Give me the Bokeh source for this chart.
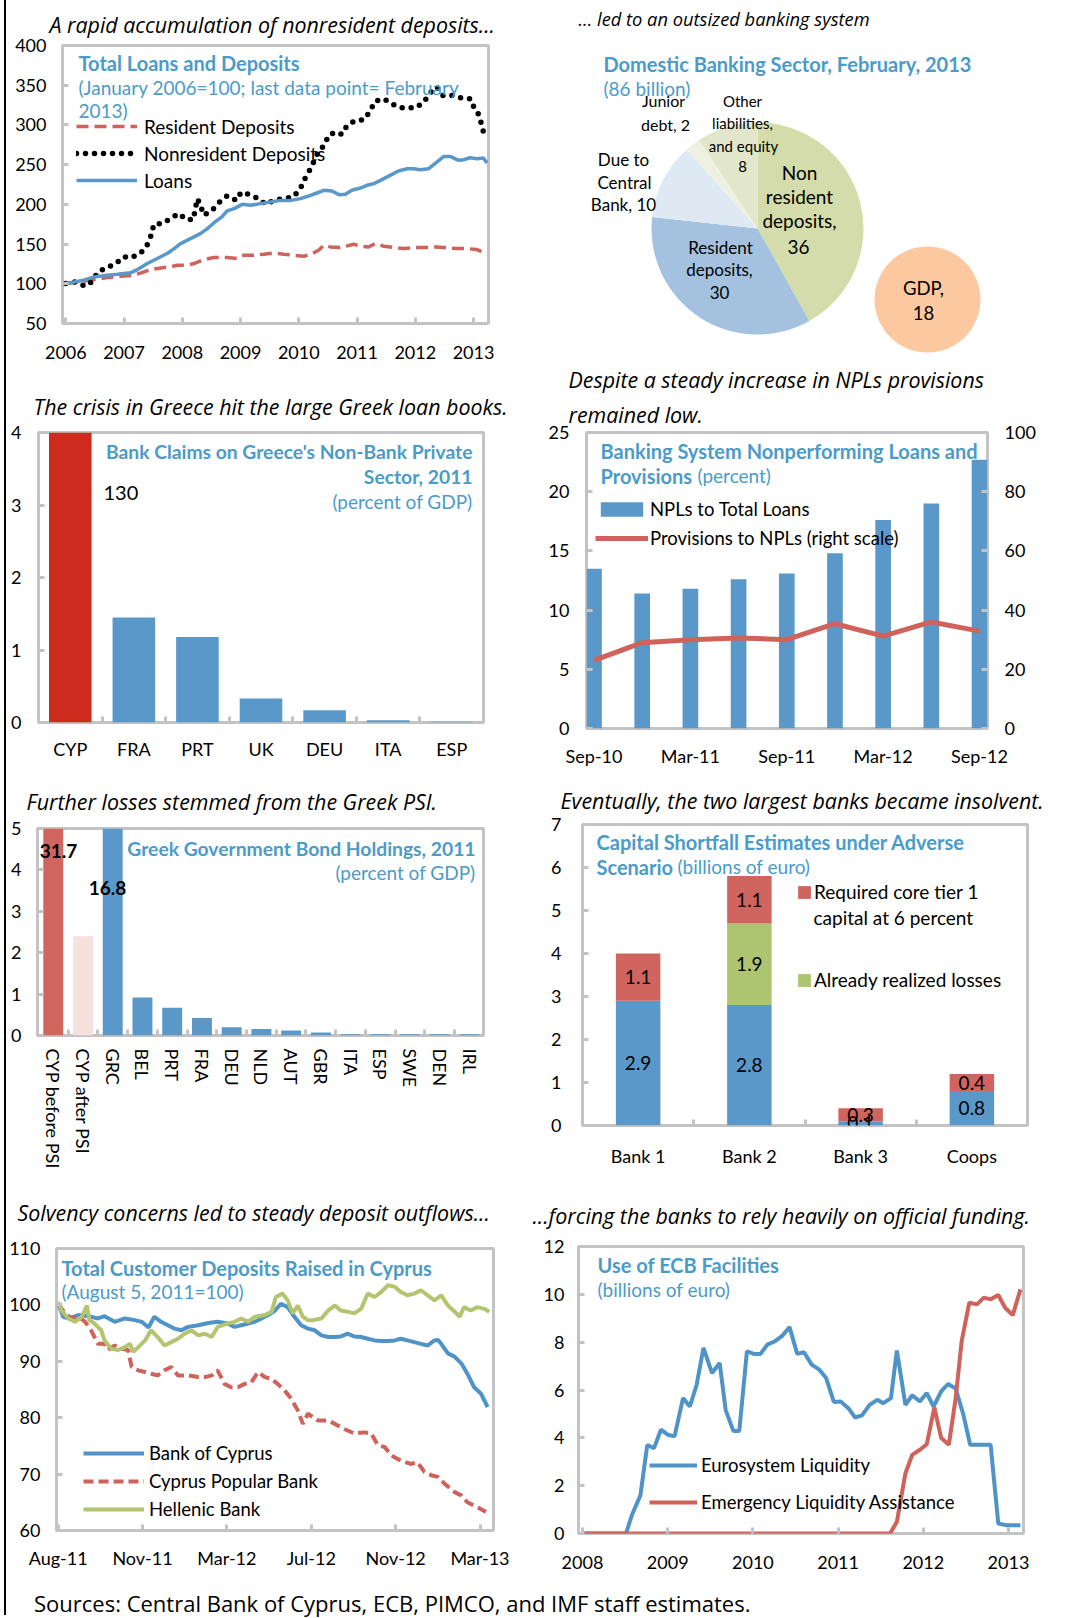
import math
from bokeh.plotting import figure
from bokeh.models import Range1d, LinearAxis, FixedTicker, Label, Legend, LegendItem, Div, Title
from bokeh.layouts import row, column
from bokeh.embed import file_html
from bokeh.resources import INLINE
from bokeh.core.properties import value

# ---------------- DATA ----------------
# Panel 1: Total loans and deposits (Jan 2006 = 100)
p1_years = [2006, 2007, 2008, 2009, 2010, 2011, 2012, 2013]
p1_yticks = [50, 100, 150, 200, 250, 300, 350, 400]
loans_x = [2006.00, 2006.26, 2006.49, 2006.71, 2006.89, 2007.11, 2007.23, 2007.40, 2007.57, 2007.74,
           2007.86, 2007.97, 2008.14, 2008.31, 2008.43, 2008.54, 2008.69, 2008.77, 2008.89, 2009.03,
           2009.17, 2009.34, 2009.51, 2009.69, 2009.86, 2010.03, 2010.20, 2010.31, 2010.43, 2010.57,
           2010.69, 2010.80, 2010.91, 2011.06, 2011.17, 2011.29, 2011.46, 2011.60, 2011.71, 2011.86,
           2011.97, 2012.09, 2012.23, 2012.37, 2012.49, 2012.60, 2012.74, 2012.83, 2012.94, 2013.06,
           2013.17, 2013.23]
loans_y = [100.3, 103.7, 108.7, 110.8, 112.1, 113.8, 117.9, 125.5, 131.8, 138.1,
           144.3, 150.6, 156.9, 163.2, 169.5, 176.6, 185.0, 191.7, 194.6, 200.0,
           198.8, 200.9, 203.0, 205.0, 205.0, 207.2, 211.4, 214.3, 217.7, 216.8,
           212.2, 212.7, 217.7, 220.6, 224.0, 226.1, 232.4, 237.8, 242.0, 244.9,
           244.9, 243.7, 244.9, 253.3, 260.4, 260.4, 255.4, 256.2, 258.7, 257.5,
           258.3, 252.0]
resdep_x = [2006.00, 2006.26, 2006.49, 2006.71, 2006.94, 2007.17, 2007.29, 2007.46, 2007.63, 2007.80,
            2007.91, 2008.09, 2008.20, 2008.37, 2008.54, 2008.77, 2008.94, 2009.06, 2009.23, 2009.40,
            2009.57, 2009.74, 2009.91, 2010.09, 2010.23, 2010.34, 2010.43, 2010.54, 2010.71, 2010.83,
            2010.94, 2011.06, 2011.20, 2011.31, 2011.46, 2011.63, 2011.80, 2011.97, 2012.20, 2012.37,
            2012.54, 2012.71, 2012.89, 2013.06, 2013.20]
resdep_y = [100.3, 102.4, 105.4, 107.9, 109.6, 110.8, 113.8, 117.9, 120.0, 121.3,
            123.4, 123.4, 125.5, 130.5, 133.0, 133.0, 131.8, 136.0, 136.0, 137.2,
            138.9, 137.2, 136.0, 134.7, 138.1, 142.2, 148.5, 146.4, 145.6, 147.7,
            149.8, 147.3, 146.4, 150.6, 147.3, 145.6, 144.3, 145.6, 145.6, 146.4,
            145.2, 144.3, 144.3, 143.1, 138.1]
nonres_x = [2006.00, 2006.17, 2006.33, 2006.46, 2006.55, 2006.70, 2006.86, 2006.99, 2007.13, 2007.29,
            2007.40, 2007.47, 2007.51, 2007.66, 2007.80, 2007.94, 2008.07, 2008.19, 2008.22, 2008.26,
            2008.31, 2008.37, 2008.51, 2008.64, 2008.77, 2008.93, 2009.01, 2009.14, 2009.27, 2009.43,
            2009.57, 2009.73, 2009.90, 2010.02, 2010.09, 2010.18, 2010.26, 2010.34, 2010.44, 2010.51,
            2010.63, 2010.74, 2010.83, 2010.96, 2011.13, 2011.23, 2011.31, 2011.46, 2011.59, 2011.74,
            2011.87, 2012.01, 2012.15, 2012.24, 2012.37, 2012.47, 2012.64, 2012.77, 2012.95, 2013.01,
            2013.11, 2013.14, 2013.20]
nonres_y = [100.3, 102.4, 97.0, 103.3, 115.0, 120.0, 125.5, 133.9, 133.0, 138.9,
            149.4, 162.0, 174.9, 175.8, 182.1, 188.4, 180.8, 180.8, 193.4, 207.2,
            198.8, 186.3, 192.5, 203.0, 210.6, 205.0, 215.2, 212.7, 208.5, 200.0,
            205.0, 207.2, 209.3, 218.5, 230.3, 242.0, 254.1, 267.1, 274.3, 286.8,
            291.0, 288.1, 299.4, 304.9, 307.0, 318.3, 330.0, 332.9, 326.7, 321.6,
            321.6, 321.6, 328.8, 339.2, 347.6, 337.1, 337.1, 334.2, 332.9, 321.6,
            310.7, 298.2, 284.8]

# Panel 2: Domestic banking sector, Feb 2013 (billions)
pie_names = ["Non resident deposits", "Resident deposits", "Due to Central Bank", "Junior debt",
             "Other liabilities, and equity"]
pie_values = [36, 30, 10, 2, 8]
gdp_value = 18

# Panel 3: Bank claims on Greece's non-bank private sector (percent of GDP)
claims_cats = ["CYP", "FRA", "PRT", "UK", "DEU", "ITA", "ESP"]
claims_vals = [130, 1.45, 1.18, 0.33, 0.17, 0.03, 0.01]

# Panel 4: NPLs and provisions
npl_quarters = ["Sep-10", "Dec-10", "Mar-11", "Jun-11", "Sep-11", "Dec-11", "Mar-12", "Jun-12", "Sep-12"]
npl_vals = [13.5, 11.4, 11.8, 12.6, 13.1, 14.8, 17.6, 19.0, 22.7]
prov_vals = [23.0, 29.0, 30.0, 30.6, 30.0, 35.4, 31.2, 36.0, 32.9]

# Panel 5: Greek government bond holdings, 2011 (percent of GDP)
bond_cats = ["CYP before PSI", "CYP after PSI", "GRC", "BEL", "PRT", "FRA", "DEU", "NLD", "AUT",
             "GBR", "ITA", "ESP", "SWE", "DEN", "IRL"]
bond_vals = [31.7, 2.4, 16.8, 0.92, 0.67, 0.42, 0.20, 0.16, 0.12, 0.07, 0.03, 0.03, 0.03, 0.03, 0.03]

# Panel 6: Capital shortfall (billions of euro)
banks = ["Bank 1", "Bank 2", "Bank 3", "Coops"]
base_vals = [2.9, 2.8, 0.1, 0.8]
losses_vals = [0, 1.9, 0, 0]
required_vals = [1.1, 1.1, 0.3, 0.4]

# Panel 7: Total customer deposits (Aug 5, 2011 = 100); x in tick intervals
dep_ticks = ["Aug-11", "Nov-11", "Mar-12", "Jul-12", "Nov-12", "Mar-13"]
boc_x = [0, 0.06, 0.12, 0.24, 0.36, 0.47, 0.55, 0.67, 0.79, 0.91, 0.99, 1.07, 1.14, 1.22, 1.30, 1.38,
         1.46, 1.54, 1.66, 1.78, 1.89, 2.01, 2.09, 2.17, 2.25, 2.33, 2.41, 2.49, 2.57, 2.64, 2.72, 2.80,
         2.88, 2.96, 3.04, 3.12, 3.20, 3.28, 3.35, 3.43, 3.51, 3.59, 3.67, 3.75, 3.83, 3.91, 3.99, 4.06,
         4.14, 4.22, 4.30, 4.38, 4.46, 4.50, 4.54, 4.62, 4.70, 4.78, 4.85, 4.93, 5.01, 5.09]
boc_y = [100.2, 97.9, 97.6, 98.2, 98.0, 97.6, 98.0, 97.0, 97.6, 97.3, 97.0, 96.0, 97.9, 97.0, 96.4, 95.8,
         95.5, 96.1, 96.4, 96.8, 97.0, 96.7, 96.1, 96.4, 96.7, 97.0, 97.6, 98.2, 99.0, 100.2, 99.6, 97.9,
         96.4, 95.8, 95.5, 94.6, 94.3, 94.3, 94.4, 94.9, 94.4, 94.3, 94.0, 93.7, 93.6, 93.6, 93.7, 94.0,
         93.7, 93.4, 93.1, 92.8, 93.7, 93.8, 93.1, 91.4, 90.8, 89.6, 87.8, 85.4, 84.3, 81.9]
cpb_x = [0, 0.08, 0.16, 0.24, 0.32, 0.39, 0.47, 0.55, 0.59, 0.67, 0.75, 0.83, 0.87, 0.95, 1.03, 1.10,
         1.18, 1.26, 1.34, 1.42, 1.54, 1.66, 1.74, 1.82, 1.89, 1.97, 2.05, 2.13, 2.21, 2.29, 2.37, 2.45,
         2.53, 2.60, 2.68, 2.76, 2.84, 2.90, 2.96, 3.08, 3.20, 3.28, 3.39, 3.51, 3.63, 3.71, 3.79, 3.87,
         3.95, 4.06, 4.18, 4.26, 4.34, 4.42, 4.50, 4.58, 4.70, 4.78, 4.85, 4.93, 5.01, 5.07]
cpb_y = [100.2, 98.5, 97.6, 97.9, 97.0, 95.5, 93.1, 93.1, 92.0, 92.8, 92.2, 92.0, 89.0, 88.4, 88.1, 87.8,
         87.5, 88.4, 89.0, 87.5, 87.5, 87.2, 87.2, 87.5, 88.4, 86.0, 85.4, 85.4, 86.0, 86.3, 88.1, 87.2,
         86.9, 86.0, 84.9, 83.4, 81.3, 78.9, 80.7, 79.5, 79.5, 78.9, 78.0, 77.2, 77.4, 77.2, 75.1, 74.8,
         73.3, 72.4, 71.8, 72.1, 70.4, 69.8, 69.5, 68.3, 66.8, 66.2, 65.0, 64.4, 63.8, 63.3]
hel_x = [0, 0.04, 0.12, 0.20, 0.28, 0.34, 0.37, 0.43, 0.51, 0.55, 0.63, 0.71, 0.79, 0.85, 0.89, 0.95,
         1.03, 1.10, 1.18, 1.26, 1.34, 1.42, 1.50, 1.58, 1.66, 1.74, 1.82, 1.89, 2.01, 2.09, 2.17, 2.25,
         2.33, 2.45, 2.53, 2.58, 2.66, 2.72, 2.78, 2.84, 2.90, 2.96, 3.02, 3.12, 3.20, 3.28, 3.35, 3.43,
         3.51, 3.59, 3.67, 3.75, 3.83, 3.91, 3.99, 4.06, 4.14, 4.22, 4.30, 4.38, 4.46, 4.54, 4.62, 4.70,
         4.76, 4.81, 4.89, 4.97, 5.05, 5.11]
hel_y = [100.5, 99.0, 97.6, 97.0, 97.9, 99.9, 97.3, 96.7, 95.5, 93.7, 92.2, 92.0, 92.5, 93.1, 91.7, 92.5,
         93.7, 95.5, 94.3, 92.8, 93.4, 94.0, 94.9, 95.5, 94.6, 94.9, 94.3, 96.1, 96.7, 97.0, 97.6, 97.0,
         97.9, 98.2, 98.8, 101.4, 102.0, 100.8, 98.5, 99.9, 97.9, 97.3, 97.3, 97.6, 99.0, 99.9, 99.0, 98.8,
         98.5, 99.3, 102.0, 101.4, 102.3, 103.5, 103.2, 102.3, 101.7, 102.0, 102.6, 101.7, 100.8, 101.7,
         99.9, 98.8, 97.9, 99.6, 99.0, 99.6, 99.3, 98.8]

# Panel 8: Use of ECB facilities (billions of euro)
ecb_years = [2008, 2009, 2010, 2011, 2012, 2013]
eu_x = [2008.00, 2008.51, 2008.58, 2008.68, 2008.76, 2008.84, 2008.92, 2009.00, 2009.08, 2009.18,
        2009.26, 2009.34, 2009.42, 2009.52, 2009.61, 2009.68, 2009.77, 2009.84, 2009.93, 2010.01,
        2010.09, 2010.17, 2010.26, 2010.34, 2010.43, 2010.52, 2010.60, 2010.69, 2010.78, 2010.86,
        2010.95, 2011.03, 2011.12, 2011.20, 2011.28, 2011.37, 2011.46, 2011.53, 2011.62, 2011.69,
        2011.79, 2011.87, 2011.96, 2012.04, 2012.12, 2012.21, 2012.29, 2012.38, 2012.47, 2012.55,
        2012.64, 2012.72, 2012.79, 2012.88, 2012.97, 2013.06, 2013.14]
eu_y = [0, 0, 0.77, 1.6, 3.7, 3.57, 4.34, 4.13, 4.06, 5.66,
        5.31, 6.22, 7.76, 6.71, 7.13, 5.17, 4.29, 4.29, 7.62, 7.51,
        7.51, 7.90, 8.04, 8.25, 8.63, 7.51, 7.58, 7.06, 6.85, 6.50,
        5.50, 5.52, 5.24, 4.85, 4.94, 5.38, 5.59, 5.45, 5.66, 7.65,
        5.38, 5.78, 5.52, 5.87, 5.31, 5.94, 6.25, 6.06, 4.97, 3.71,
        3.71, 3.71, 3.71, 0.42, 0.35, 0.35, 0.35]
ela_x = [2008.00, 2011.61, 2011.69, 2011.79, 2011.87, 2011.96, 2012.04, 2012.13, 2012.21, 2012.30,
         2012.38, 2012.45, 2012.54, 2012.63, 2012.71, 2012.79, 2012.88, 2012.96, 2013.05, 2013.14]
ela_y = [0, 0, 0.49, 2.52, 3.29, 3.50, 3.73, 5.27, 3.99, 3.71,
         5.66, 8.04, 9.65, 9.58, 9.86, 9.79, 9.97, 9.44, 9.13, 10.21]

# ---------------- STYLE ----------------
FONT = "Lato"
CAPFONT = "Open Sans"
TBLUE = "#4b9bc8"
BLUE = "#5a98c9"
RED = "#d0625c"
CYP_RED = "#cc2b1d"
GREEN = "#adc470"
GRAY = "#c3c3c3"
TICK = 18
HEAD = 20     # bold blue chart titles
SUB = 19      # blue subtitles
CAP = 21.4    # italic panel captions


def base_fig(ox, oy, w, h, fl, ft, fw, fh, xr, yr):
    p = figure(width=w, height=h, x_range=xr, y_range=yr, title=None,
               min_border_left=fl - ox, min_border_right=w - (fl - ox) - fw,
               min_border_top=ft - oy, min_border_bottom=h - (ft - oy) - fh,
               output_backend="svg", toolbar_location=None)
    p.grid.visible = False
    p.outline_line_color = GRAY
    p.outline_line_width = 3
    p.background_fill_color = "white"
    p.border_fill_color = "white"
    return p


def style_axis(ax, standoff, tick_in=6, boundary=False):
    ax.axis_line_color = None
    ax.major_tick_line_color = GRAY
    ax.major_tick_line_width = 3
    ax.major_tick_in = 0 if boundary else tick_in
    ax.major_tick_out = 0
    if boundary:
        ax.minor_tick_line_color = GRAY
        ax.minor_tick_line_width = 3
        ax.minor_tick_in = tick_in
        ax.minor_tick_out = 0
    else:
        ax.minor_tick_line_color = None
    ax.major_label_text_font = FONT
    ax.major_label_text_font_size = f"{TICK}px"
    ax.major_label_text_color = "black"
    ax.major_label_standoff = standoff


def cat_axis(ax, cats, standoff):
    idx = list(range(len(cats)))
    ax.ticker = FixedTicker(ticks=idx, minor_ticks=[i + 0.5 for i in idx[:-1]])
    ax.major_label_overrides = {i: c for i, c in zip(idx, cats)}
    style_axis(ax, standoff, boundary=True)


def lab(p, frame, px, py, text, size=18, color="black", style="normal", align="left", font=FONT):
    fl, fb = frame
    p.add_layout(Label(x=px - fl, y=fb - py, x_units="screen", y_units="screen", text=text,
                       text_font=font, text_font_size=f"{size}px", text_color=color,
                       text_font_style=style, text_align=align, text_baseline="middle"))


def caption(p, lines, offset, standoffs, size=CAP):
    # lines given top to bottom; the first Title added sits nearest the frame
    for text, so in zip(reversed(lines), reversed(standoffs)):
        p.add_layout(Title(text=text, align="left", offset=offset, standoff=so, text_font=CAPFONT,
                           text_font_size=f"{size}px", text_font_style="italic",
                           text_color="black"), "above")


def legend(p, items, loc, gw, gh, spacing, standoff, size=18.5):
    lg = Legend(items=items, location=loc, orientation="vertical", glyph_width=gw, glyph_height=gh,
                label_height=gh, spacing=spacing, label_standoff=standoff, padding=0, margin=0,
                border_line_color=None, background_fill_alpha=0, label_text_font=FONT,
                label_text_font_size=f"{size}px", label_text_color="black")
    p.add_layout(lg)


# ---------------- PANEL A ----------------
FA = (62, 323)
pA = base_fig(6, 0, 524, 372, 62, 45, 426, 278, Range1d(2005.943, 2013.257), Range1d(50, 400))
style_axis(pA.xaxis[0], 22)
pA.xaxis[0].ticker = FixedTicker(ticks=p1_years)
style_axis(pA.yaxis[0], 16)
pA.yaxis[0].ticker = FixedTicker(ticks=p1_yticks)
rA1 = pA.line(resdep_x, resdep_y, line_color=RED, line_width=3.5, line_dash="12 6")
rA2 = pA.line(nonres_x, nonres_y, line_color="black", line_width=5.5, line_dash="0 9", line_cap="round")
rA3 = pA.line(loans_x, loans_y, line_color=BLUE, line_width=3.5)
legend(pA, [LegendItem(label="Resident Deposits", renderers=[rA1]),
            LegendItem(label="Nonresident Deposits", renderers=[rA2]),
            LegendItem(label="Loans", renderers=[rA3])], (14, 131), 61, 24, 3, 7, 19)
caption(pA, ["A rapid accumulation of nonresident deposits..."], 49 - 62, [13])
lab(pA, FA, 78, 62, "Total Loans and Deposits", HEAD, TBLUE, "bold")
lab(pA, FA, 78, 87, "(January 2006=100; last data point= February", SUB, TBLUE)
lab(pA, FA, 78, 110, "2013)", SUB, TBLUE)

# ---------------- PANEL B (pie) ----------------
FB = (530, 360)
pB = figure(width=540, height=360, x_range=Range1d(0, 540), y_range=Range1d(0, 360), min_border=0,
            title=None, x_axis_type=None, y_axis_type=None, output_backend="svg", toolbar_location=None)
pB.outline_line_color = None
pB.background_fill_color = "white"
pB.border_fill_color = "white"
pie_colors = ["#d3dcaa", "#a4c2df", "#dfe9f4", "#eef1e1", "#e2e7cb"]
total = sum(pie_values)
starts, ends, cum = [], [], 0
for v in pie_values:
    starts.append(math.pi / 2 - 2 * math.pi * cum / total)
    cum += v
    ends.append(math.pi / 2 - 2 * math.pi * cum / total)
PIE_R = 106
pB.wedge(x=757 - FB[0], y=FB[1] - 228, radius=PIE_R, start_angle=starts, end_angle=ends,
         direction="clock", fill_color=pie_colors, line_color=None)
pB.circle(x=927 - FB[0], y=FB[1] - 299, radius=53, fill_color="#fcc8a0", line_color=None)
lab(pB, FB, 578, 18, "... led to an outsized banking system", 18.3, style="italic", font=CAPFONT)
lab(pB, FB, 603, 63, "Domestic Banking Sector, February, 2013", HEAD, TBLUE, "bold")
lab(pB, FB, 603, 88, f"({total} billion)", SUB, TBLUE)
lab(pB, FB, 663, 100, "Junior", 16, align="center")
lab(pB, FB, 665, 124, f"debt, {pie_values[3]}", 16, align="center")
lab(pB, FB, 742, 100, "Other", 15, align="center")
lab(pB, FB, 742, 122, "liabilities,", 15, align="center")
lab(pB, FB, 743, 145, "and equity", 15, align="center")
lab(pB, FB, 742, 166, f"{pie_values[4]}", 15, align="center")
lab(pB, FB, 623, 159, "Due to", 17, align="center")
lab(pB, FB, 624, 182, "Central", 17, align="center")
lab(pB, FB, 623, 204, f"Bank, {pie_values[2]}", 17, align="center")
lab(pB, FB, 799, 172, "Non", 19, align="center")
lab(pB, FB, 799, 196, "resident", 19, align="center")
lab(pB, FB, 799, 220, "deposits,", 19, align="center")
lab(pB, FB, 798, 246, f"{pie_values[0]}", 19, align="center")
lab(pB, FB, 720, 247, "Resident", 17, align="center")
lab(pB, FB, 719, 269, "deposits,", 17, align="center")
lab(pB, FB, 719, 292, f"{pie_values[1]}", 17, align="center")
lab(pB, FB, 923, 287, "GDP,", 18.5, align="center")
lab(pB, FB, 923, 312, f"{gdp_value}", 18.5, align="center")

# ---------------- PANEL C ----------------
FC = (38, 722)
pC = base_fig(6, 372, 524, 398, 38, 432, 445, 290, Range1d(-0.5, 6.5), Range1d(0, 4))
cat_axis(pC.xaxis[0], claims_cats, 15)
style_axis(pC.yaxis[0], 17)
pC.yaxis[0].ticker = FixedTicker(ticks=[0, 1, 2, 3, 4])
cx = list(range(len(claims_cats)))
pC.vbar(x=cx, top=claims_vals, width=0.67, line_color=None,
        fill_color=[CYP_RED] + [BLUE] * (len(cx) - 1))
caption(pC, ["The crisis in Greece hit the large Greek loan books."], 33 - 38, [24])
lab(pC, FC, 472, 451, "Bank Claims on Greece's Non-Bank Private", 19.3, TBLUE, "bold", "right")
lab(pC, FC, 472, 476, "Sector, 2011", 19.3, TBLUE, "bold", "right")
lab(pC, FC, 472, 501, "(percent of GDP)", SUB, TBLUE, align="right")
lab(pC, FC, 103, 492, f"{claims_vals[0]}", 20)

# ---------------- PANEL D ----------------
FD = (586, 728)
pD = base_fig(530, 360, 540, 410, 586, 432, 401, 296, Range1d(-0.156, 8.166), Range1d(0, 25))
pD.extra_y_ranges = {"right": Range1d(0, 100)}
qx = list(range(len(npl_quarters)))
rD1 = pD.vbar(x=qx, top=npl_vals, width=0.325, fill_color=BLUE, line_color=None)
rD2 = pD.line(qx, prov_vals, y_range_name="right", line_color=RED, line_width=5)
axD = pD.xaxis[0]
axD.ticker = FixedTicker(ticks=qx[::2])
axD.major_label_overrides = {i: npl_quarters[i] for i in qx[::2]}
style_axis(axD, 16)
axD.major_tick_in = 0
style_axis(pD.yaxis[0], 17)
pD.yaxis[0].ticker = FixedTicker(ticks=[0, 5, 10, 15, 20, 25])
axR = LinearAxis(y_range_name="right", ticker=FixedTicker(ticks=[0, 20, 40, 60, 80, 100]))
style_axis(axR, 17)
pD.add_layout(axR, "right")
legend(pD, [LegendItem(label="NPLs to Total Loans", renderers=[rD1]),
            LegendItem(label="Provisions to NPLs (right scale)", renderers=[rD2])],
       (9, 179), 53, 18, 7, 2)
caption(pD, ["Despite a steady increase in NPLs provisions", "remained low."], 568 - 586, [0, 8])
lab(pD, FD, 600, 450, "Banking System Nonperforming Loans and", HEAD, TBLUE, "bold")
lab(pD, FD, 600, 475, "Provisions", HEAD, TBLUE, "bold")
lab(pD, FD, 697, 475, "(percent)", SUB, TBLUE)

# ---------------- PANEL E ----------------
FE = (37, 1035)
pE = base_fig(6, 770, 524, 402, 37, 828, 446, 207, Range1d(-0.53, 14.47), Range1d(0, 5))
cat_axis(pE.xaxis[0], bond_cats, 13)
pE.xaxis[0].major_label_orientation = -math.pi / 2
style_axis(pE.yaxis[0], 16)
pE.yaxis[0].ticker = FixedTicker(ticks=[0, 1, 2, 3, 4, 5])
ex = list(range(len(bond_cats)))
pE.vbar(x=ex, top=bond_vals, width=0.67, line_color=None,
        fill_color=["#d0665f", "#f5e1de"] + [BLUE] * (len(ex) - 2))
caption(pE, ["Further losses stemmed from the Greek PSI."], 26 - 37, [26])
lab(pE, FE, 475, 848, "Greek Government Bond Holdings, 2011", 19.3, TBLUE, "bold", "right")
lab(pE, FE, 475, 872, "(percent of GDP)", SUB, TBLUE, align="right")
lab(pE, FE, 58, 850, f"{bond_vals[0]}", 19, style="bold", align="center")
lab(pE, FE, 107, 887, f"{bond_vals[2]}", 19, style="bold", align="center")

# ---------------- PANEL F ----------------
FF = (582, 1125)
pF = base_fig(530, 770, 540, 402, 582, 824, 445, 301, Range1d(-0.5, 3.5), Range1d(0, 7))
cat_axis(pF.xaxis[0], banks, 19)
style_axis(pF.yaxis[0], 21)
pF.yaxis[0].ticker = FixedTicker(ticks=list(range(8)))
fx = list(range(len(banks)))
b1 = [0] * len(fx)
t1 = [b + v for b, v in zip(b1, base_vals)]
t2 = [b + v for b, v in zip(t1, losses_vals)]
t3 = [b + v for b, v in zip(t2, required_vals)]
pF.vbar(x=fx, bottom=b1, top=t1, width=0.4, fill_color=BLUE, line_color=None)
rF2 = pF.vbar(x=fx, bottom=t1, top=t2, width=0.4, fill_color=GREEN, line_color=None)
rF3 = pF.vbar(x=fx, bottom=t2, top=t3, width=0.4, fill_color="#d0655f", line_color=None)
tx, ty, tt = [], [], []
for bots, vals in ((b1, base_vals), (t1, losses_vals), (t2, required_vals)):
    for i, (b, v) in enumerate(zip(bots, vals)):
        if v > 0:
            tx.append(i)
            ty.append(b + v / 2)
            tt.append(f"{v}")
pF.text(x=tx, y=ty, text=tt, text_align="center", text_baseline="middle",
        text_font=value(FONT), text_font_size="19px", text_color="black")
legend(pF, [LegendItem(label="Required core tier 1", renderers=[rF3]),
            LegendItem(label="Already realized losses", renderers=[rF2])],
       (214, 134), 16, 16, 65, 2, 19)
lab(pF, FF, 813, 917, "capital at 6 percent", 19)
caption(pF, ["Eventually, the two largest banks became insolvent."], 560 - 582, [20])
lab(pF, FF, 596, 841, "Capital Shortfall Estimates under Adverse", HEAD, TBLUE, "bold")
lab(pF, FF, 596, 866, "Scenario", HEAD, TBLUE, "bold")
lab(pF, FF, 677, 866, "(billions of euro)", SUB, TBLUE)

# ---------------- PANEL G ----------------
FG = (55, 1530)
pG = base_fig(6, 1172, 524, 413, 55, 1248, 438, 282, Range1d(-0.02, 5.16), Range1d(60, 110))
gx = list(range(len(dep_ticks)))
pG.xaxis[0].ticker = FixedTicker(ticks=gx)
pG.xaxis[0].major_label_overrides = {i: t for i, t in zip(gx, dep_ticks)}
style_axis(pG.xaxis[0], 16)
style_axis(pG.yaxis[0], 16)
pG.yaxis[0].ticker = FixedTicker(ticks=[60, 70, 80, 90, 100, 110])
rG1 = pG.line(boc_x, boc_y, line_color="#4f93c7", line_width=4)
rG2 = pG.line(cpb_x, cpb_y, line_color=RED, line_width=4, line_dash="10 5")
rG3 = pG.line(hel_x, hel_y, line_color="#b3c66f", line_width=4)
legend(pG, [LegendItem(label="Bank of Cyprus", renderers=[rG1]),
            LegendItem(label="Cyprus Popular Bank", renderers=[rG2]),
            LegendItem(label="Hellenic Bank", renderers=[rG3])], (27, 9), 61, 24, 4, 5)
caption(pG, ["Solvency concerns led to steady deposit outflows..."], 16 - 55, [44])
lab(pG, FG, 60, 1267, "Total Customer Deposits Raised in Cyprus", HEAD, TBLUE, "bold")
lab(pG, FG, 60, 1291, "(August 5, 2011=100)", SUB, TBLUE)

# ---------------- PANEL H ----------------
FH = (578, 1533)
pH = base_fig(530, 1172, 540, 413, 578, 1246, 445, 287, Range1d(2007.953, 2013.176), Range1d(0, 12))
pH.xaxis[0].ticker = FixedTicker(ticks=ecb_years)
style_axis(pH.xaxis[0], 22)
style_axis(pH.yaxis[0], 14)
pH.yaxis[0].ticker = FixedTicker(ticks=[0, 2, 4, 6, 8, 10, 12])
rH1 = pH.line(eu_x, eu_y, line_color="#4f93c7", line_width=4)
rH2 = pH.line(ela_x, ela_y, line_color=RED, line_width=4)
legend(pH, [LegendItem(label="Eurosystem Liquidity", renderers=[rH1]),
            LegendItem(label="Emergency Liquidity Assistance", renderers=[rH2])],
       (71, 19), 48, 24, 13, 4)
caption(pH, ["...forcing the banks to rely heavily on official funding."], 532 - 578, [34])
lab(pH, FH, 597, 1264, "Use of ECB Facilities", HEAD, TBLUE, "bold")
lab(pH, FH, 597, 1289, "(billions of euro)", SUB, TBLUE)

# ---------------- LAYOUT ----------------
src = Div(text='<div style="padding-left:28px;padding-top:3px;font-family:\'Open Sans\';font-size:22px;'
               'color:black;white-space:nowrap">Sources: Central Bank of Cyprus, ECB, PIMCO, '
               'and IMF staff estimates.</div>', width=1064, height=30, margin=0)
gap = Div(text="", width=4, height=1615, margin=0)
vline = Div(text="", width=2, height=1615, margin=0, styles={"background-color": "black"})


def box(p):
    return column(p, margin=0)


left_col = column(box(pA), box(pC), box(pE), box(pG), margin=0)
right_col = column(box(pB), box(pD), box(pF), box(pH), margin=0)
page = row(gap, vline, column(row(left_col, right_col, margin=0), src, margin=0))

open("out.html", "w").write(file_html(page, INLINE))
